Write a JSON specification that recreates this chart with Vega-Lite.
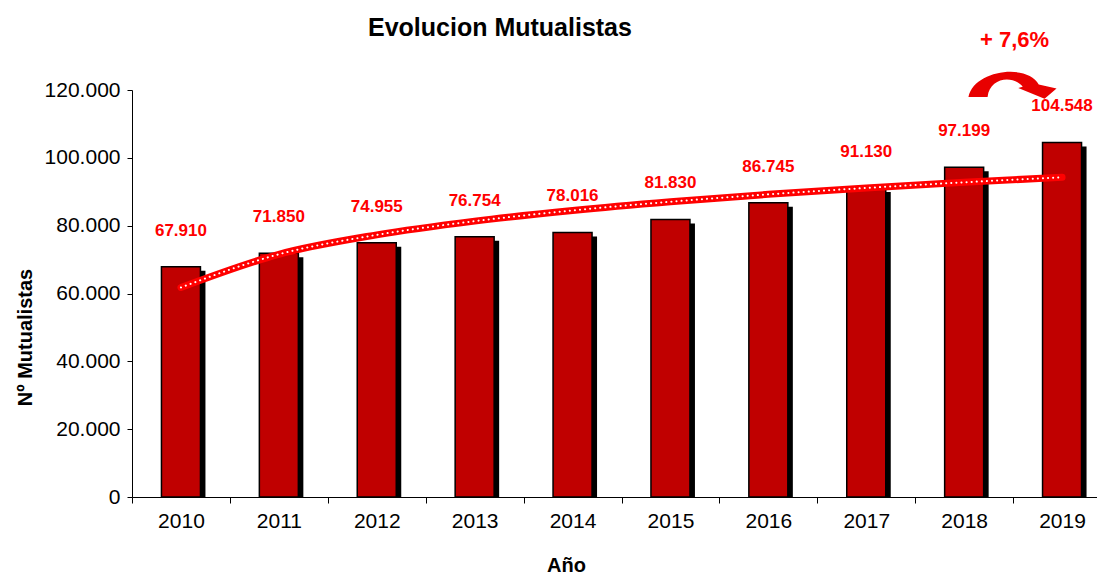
{
  "$schema": "https://vega.github.io/schema/vega-lite/v6.json",
  "autosize": {"type": "none"},
  "padding": {"left": 132, "top": 90, "right": 0, "bottom": 77},
  "width": 965,
  "height": 407,
  "config": {
    "font": "Liberation Sans",
    "locale": {"number": {"decimal": ",", "thousands": ".", "grouping": [3], "currency": ["", " €"]}},
    "view": {"stroke": null},
    "title": {"font": "Liberation Sans", "fontSize": 25, "fontWeight": "bold", "color": "black", "anchor": "start", "frame": "group", "dx": 236, "offset": -12}
  },
  "title": "Evolucion Mutualistas",
  "datasets": {
    "main": [
      {"year": "2010", "value": 67910, "trend": 61777},
      {"year": "2011", "value": 71850, "trend": 71559},
      {"year": "2012", "value": 74955, "trend": 77281},
      {"year": "2013", "value": 76754, "trend": 81341},
      {"year": "2014", "value": 78016, "trend": 84490},
      {"year": "2015", "value": 81830, "trend": 87063},
      {"year": "2016", "value": 86745, "trend": 89239},
      {"year": "2017", "value": 91130, "trend": 91123},
      {"year": "2018", "value": 97199, "trend": 92786},
      {"year": "2019", "value": 104548, "trend": 94274}
    ],
    "note": [
      {"year": "2019", "value": 104548, "growth": "+ 7,6%"}
    ]
  },
  "data": {"name": "main"},
  "encoding": {
    "x": {
      "field": "year", "type": "ordinal",
      "scale": {"range": [0, 979], "paddingInner": 0, "paddingOuter": 0},
      "axis": {
        "title": "Año", "labelAngle": 0, "labelFontSize": 21, "labelColor": "black", "labelPadding": 7,
        "domainColor": "black", "tickColor": "black", "tickSize": 6, "tickBand": "extent",
        "titleFontSize": 20, "titleFontWeight": "bold", "titleColor": "black",
        "titleX": 434, "titleY": 74, "titleBaseline": "alphabetic"
      }
    },
    "y": {
      "field": "value", "type": "quantitative",
      "scale": {"domain": [0, 120000], "nice": false},
      "axis": {
        "title": "Nº Mutualistas", "values": [0, 20000, 40000, 60000, 80000, 100000, 120000],
        "format": ",d", "grid": false, "labelFontSize": 21, "labelColor": "black", "labelPadding": 7,
        "domainColor": "black", "tickColor": "black", "tickSize": 5,
        "titleFontSize": 20, "titleFontWeight": "bold", "titleColor": "black",
        "titleX": -107, "titleY": 247, "titleBaseline": "middle"
      }
    }
  },
  "layer": [
    {"mark": {"type": "bar", "size": 39, "color": "black", "xOffset": 5, "yOffset": 4, "clip": true}},
    {"mark": {"type": "bar", "size": 39, "color": "#C00000", "stroke": "black", "strokeWidth": 1.5}},
    {"mark": {"type": "line", "color": "#FF0000", "strokeWidth": 7, "interpolate": "monotone", "strokeCap": "round"},
     "encoding": {"y": {"field": "trend", "type": "quantitative"}}},
    {"mark": {"type": "line", "color": "white", "strokeWidth": 2, "interpolate": "monotone", "strokeDash": [0.1, 5], "strokeCap": "round"},
     "encoding": {"y": {"field": "trend", "type": "quantitative"}}},
    {"mark": {"type": "text", "color": "#FF0000", "fontSize": 17, "fontWeight": "bold", "dy": -36, "baseline": "middle"},
     "encoding": {"text": {"field": "value", "type": "quantitative", "format": ",d"}}},
    {"data": {"name": "note"},
     "mark": {"type": "text", "color": "#FF0000", "fontSize": 22, "fontWeight": "bold", "dx": -47.5, "dy": -102, "baseline": "middle"},
     "encoding": {"text": {"field": "growth"}}},
    {"data": {"name": "note"},
     "mark": {"type": "point", "filled": true, "color": "#E80000", "opacity": 1, "strokeWidth": 0, "size": 7921, "xOffset": -50, "yOffset": -57,
       "shape": "M -0.98 0.26 C -0.85 -0.35 0.35 -0.5 0.6 -0.02 L 1.0 0.07 L 0.73 0.3 L 0.14 0.06 L 0.24 0.03 C 0.02 -0.24 -0.5 -0.18 -0.55 0.26 Z"}}
  ]
}
